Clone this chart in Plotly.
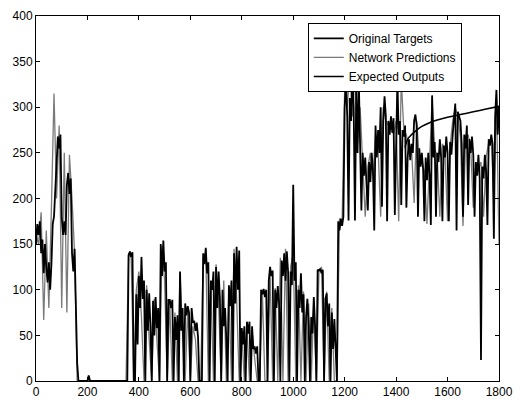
import plotly.graph_objects as go

# ---------------- data ----------------
# Original Targets, sampled every 5 units, per segment (start x given)
tgt_a_start = 0
tgt_a = [150, 172, 160, 175, 140, 155, 118, 150, 125, 108, 130, 100, 128, 172, 180, 205,
         240, 268, 255, 270, 180, 160, 175, 160, 215, 228, 205, 222, 140, 120, 145, 85, 20, 0]
tgt_b_x = [170, 200, 205, 210, 215, 355]
tgt_b = [0, 0, 6, 0, 0, 0]
tgt_c_start = 360
tgt_c = [138, 142, 136, 141, 0, 0, 95, 40, 115, 80, 136, 90, 110, 0, 100, 55, 96, 60, 0, 88,
         50, 92, 58, 80, 0, 150, 115, 154, 120, 130, 0, 89, 89, 80, 89, 0, 70, 45, 72, 0,
         120, 55, 80, 0, 85, 72, 82, 75, 0, 80, 64, 66, 55, 64, 48, 0, 0, 0, 140, 128,
         146, 118, 130, 0, 110, 100, 120, 0, 125, 80, 120, 90, 0, 100, 60, 80, 45, 0, 105, 82,
         110, 0, 140, 85, 147, 100, 143, 0, 58, 40, 60, 0, 65, 52, 65, 0, 60, 35, 38, 30,
         38, 0, 0, 100, 95, 101, 92, 100, 0, 110, 125, 115, 121, 0, 100, 80, 104, 85, 0, 132,
         115, 140, 110, 142, 120, 0, 120, 105, 215, 110, 130, 0, 100, 80, 118, 75, 95, 0, 70, 90,
         60, 0, 70, 52, 92, 60, 0, 122, 121, 123, 118, 122, 0, 90, 96, 60, 85, 0, 75, 35,
         68, 30, 0]
tgt_d_start = 1175
tgt_d = [175, 165, 178, 170, 180,
         300, 330, 290, 176, 310, 285, 335, 300, 176, 320, 250, 330, 260, 187, 250, 225, 245, 220, 187, 240,
         218, 250, 230, 165, 280, 245, 275, 250, 300, 191, 285, 312, 290, 175, 285, 270, 290, 272, 288, 182,
         280, 330, 270, 285, 193, 275, 268, 280, 190, 245, 265, 242, 260, 250, 285, 292, 280, 180, 255, 235,
         250, 232, 175, 245, 220, 250, 225, 171, 313, 245, 262, 180, 250, 240, 265, 245, 175, 258, 245, 268,
         250, 175, 262, 248, 270, 290, 304, 165, 295, 290, 285, 260, 180, 270, 255, 280, 193, 265, 250, 268,
         248, 180, 240, 225, 248, 222, 23, 235, 222, 248, 230, 171, 265, 258, 270, 260, 156, 290, 319, 270,
         300]

# Network Predictions, sampled every 10 units, per segment
pred_a_start = 0
pred_a = [160, 150, 185, 67, 165, 80, 190, 315, 200, 280, 80, 250, 75, 248, 200, 140, 0]
pred_b_x = [170, 350]
pred_b = [0, 0]
pred_c_start = 360
pred_c = [140, 135, 0, 100, 120, 70, 0, 105, 45, 0, 90, 40, 0, 148, 110, 0, 85, 0, 75, 0,
          118, 50, 0, 80, 0, 60, 45, 0, 0, 135, 140, 0, 105, 0, 128, 85, 0, 110, 0, 100,
          0, 145, 90, 0, 55, 0, 60, 0, 55, 25, 0, 0, 98, 0, 0, 120, 0, 102, 0, 135,
          0, 145, 0, 125, 140, 0, 105, 0, 98, 0, 85, 0, 88, 0, 120, 125, 0, 98, 0, 80,
          0, 0]
pred_d_start = 1180
pred_d = [178, 172, 320, 300, 340, 290, 335, 260, 300, 240, 180, 235, 250, 225, 270, 255, 180, 300, 285, 280,
          285, 270, 285, 175, 330, 275, 270, 250, 255, 195, 285, 245, 240, 230, 172, 240, 310, 255, 245, 180,
          260, 250, 175, 258, 285, 300, 290, 268, 170, 262, 270, 255, 190, 235, 232, 240, 180, 245, 262, 265,
          200, 310, 150]

# Expected Outputs
exp_x = [1435, 1445, 1460, 1480, 1500, 1530, 1560, 1600, 1650, 1700, 1750, 1800]
exp_y = [256, 265, 270, 275, 279, 283, 286, 289, 292, 295, 298, 301]

x_ticks = [0, 200, 400, 600, 800, 1000, 1200, 1400, 1600, 1800]
y_ticks = [0, 50, 100, 150, 200, 250, 300, 350, 400]


def seg(start, step, vals):
    return [start + step * i for i in range(len(vals))]


tgt_x = seg(tgt_a_start, 5, tgt_a) + tgt_b_x + seg(tgt_c_start, 5, tgt_c) + seg(tgt_d_start, 5, tgt_d)
tgt_y = tgt_a + tgt_b + tgt_c + tgt_d
pred_x = seg(pred_a_start, 10, pred_a) + pred_b_x + seg(pred_c_start, 10, pred_c) + seg(pred_d_start, 10, pred_d)
pred_y = pred_a + pred_b + pred_c + pred_d

fig = go.Figure()
fig.add_trace(go.Scatter(x=pred_x, y=pred_y, mode="lines", name="Network Predictions",
                         line=dict(color="#7a7a7a", width=1.3), legendrank=2))
fig.add_trace(go.Scatter(x=tgt_x, y=tgt_y, mode="lines", name="Original Targets",
                         line=dict(color="black", width=1.8), legendrank=1))
fig.add_trace(go.Scatter(x=exp_x, y=exp_y, mode="lines", name="Expected Outputs",
                         line=dict(color="black", width=1.6, shape="spline"), legendrank=3))

font_family = "Liberation Sans, Arial, sans-serif"
axis_common = dict(showgrid=False, zeroline=False, showline=True, linecolor="black", linewidth=1,
                   mirror="ticks", ticks="inside", ticklen=4, tickcolor="black",
                   tickfont=dict(family=font_family, size=12, color="black"),
                   automargin=False)

fig.update_layout(
    width=515, height=399,
    margin=dict(l=36, r=16, t=16, b=18),
    paper_bgcolor="white", plot_bgcolor="white",
    showlegend=True,
    hovermode=False,
    legend=dict(x=0.587, y=0.981, xanchor="left", yanchor="top",
                bgcolor="white", bordercolor="black", borderwidth=1,
                font=dict(family=font_family, size=12, color="black"),
                tracegroupgap=0, itemwidth=30),
    xaxis=dict(range=[0, 1800], tickvals=x_ticks, ticktext=[str(v) for v in x_ticks], **axis_common),
    yaxis=dict(range=[0, 400], tickvals=y_ticks, ticktext=[str(v) for v in y_ticks], **axis_common),
)

# remove the page body's default margin so the figure sits at the window's top-left corner
fig.write_html("out.html", config={"displayModeBar": False},
               post_script="document.body.style.margin='0';document.body.style.overflow='hidden';")
